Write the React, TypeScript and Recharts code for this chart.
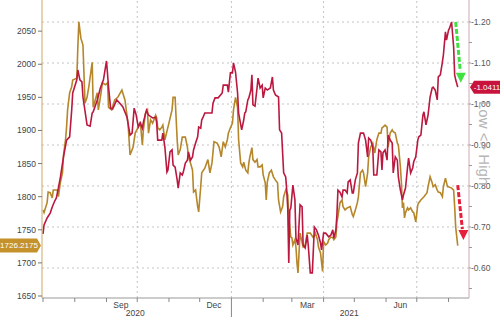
import { LineChart, Line, XAxis, YAxis, ReferenceLine, ReferenceDot } from 'recharts';

// x = days since 1 Jul 2020
const monthStarts = [0, 31, 62, 92, 123, 153, 184, 215, 243, 274, 304, 335, 365, 396];
const yearBreakDay = 184;
const monthLabelDays = [76, 167, 258, 349];
const monthLabelText = ['Sep', 'Dec', 'Mar', 'Jun'];
const yearLabelDays = [90, 299];
const yearLabelText = ['2020', '2021'];
const gridDays = [92, 184, 274, 365];

const goldTicks = [1650, 1700, 1750, 1800, 1850, 1900, 1950, 2000, 2050];
const yieldTicks = [-1.2, -1.1, -1.0, -0.9, -0.8, -0.7, -0.6];
const yieldMinorTicks = [-1.15, -1.05, -0.95, -0.85, -0.75, -0.65, -0.55];
const lastGold = 1726.2175;
const lastYield = -1.0411;

const goldDays = [
    0, 1, 4, 5, 7, 9, 10, 14, 15, 17,
    19, 20, 22, 23, 24, 26, 28, 29, 33, 34,
    35, 37, 39, 41, 43, 45, 48, 49, 51, 53,
    54, 56, 58, 61, 63, 64, 67, 70, 73, 77,
    80, 83, 85, 88, 90, 93, 95, 97, 98, 100,
    102, 103, 105, 107, 110, 111, 112, 114, 116, 117,
    119, 122, 126, 127, 129, 131, 132, 134, 136, 139,
    141, 142, 144, 146, 147, 149, 151, 152, 154, 155,
    158, 161, 163, 165, 167, 170, 172, 174, 176, 178,
    180, 181, 183, 185, 186, 188, 190, 191, 193, 195,
    196, 198, 200, 201, 202, 204, 205, 207, 209, 210,
    212, 214, 215, 217, 218, 219, 221, 223, 225, 227,
    229, 230, 232, 234, 235, 237, 239, 240, 242, 243,
    244, 246, 247, 248, 249, 251, 254, 256, 258, 261,
    264, 266, 268, 269, 271, 273, 274, 276, 278, 279,
    281, 283, 284, 286, 287, 288, 290, 292, 293, 295,
    297, 300, 302, 303, 305, 307, 308, 310, 312, 313,
    315, 317, 318, 320, 322, 324, 326, 328, 330, 331,
    332, 334, 336, 337, 339, 341, 342, 344, 346, 347,
    349, 350, 351, 352, 353, 354, 356, 357, 359, 361,
    362, 364, 366, 367, 369, 372, 375, 376, 378, 380,
    381, 383, 385, 386, 388, 390, 391, 393, 395, 396,
    399, 401, 402, 403, 405,
];
const goldPrice = [
    1780, 1776, 1791, 1807, 1806, 1798, 1810, 1810, 1800, 1822,
    1836, 1863, 1886, 1905, 1931, 1957, 1966, 1976, 1979, 2026,
    2064, 2039, 2029, 1941, 1950, 1969, 2003, 1935, 1946, 1957,
    1931, 1950, 1972, 1969, 1972, 1935, 1931, 1946, 1950, 1961,
    1946, 1911, 1863, 1875, 1896, 1905, 1913, 1878, 1901, 1926,
    1931, 1896, 1916, 1911, 1923, 1919, 1904, 1901, 1905, 1908,
    1886, 1905, 1931, 1950, 1950, 1886, 1863, 1871, 1890, 1890,
    1875, 1860, 1851, 1840, 1807, 1810, 1785, 1777, 1815, 1836,
    1843, 1856, 1836, 1851, 1883, 1881, 1875, 1860, 1883, 1875,
    1886, 1896, 1904, 1911, 1931, 1950, 1935, 1886, 1851, 1845,
    1852, 1840, 1836, 1851, 1860, 1874, 1856, 1852, 1856, 1845,
    1845, 1848, 1833, 1821, 1795, 1822, 1836, 1840, 1830, 1825,
    1821, 1795, 1777, 1785, 1800, 1810, 1803, 1770, 1739, 1738,
    1727, 1735, 1724, 1700, 1685, 1745, 1724, 1727, 1745, 1745,
    1738, 1745, 1735, 1724, 1715, 1687, 1732, 1727, 1730, 1735,
    1739, 1738, 1735, 1739, 1762, 1770, 1791, 1795, 1785, 1780,
    1783, 1785, 1773, 1770, 1780, 1791, 1800, 1836, 1840, 1836,
    1815, 1836, 1860, 1875, 1881, 1866, 1886, 1896, 1896, 1904,
    1905, 1908, 1905, 1875, 1896, 1901, 1898, 1896, 1881, 1878,
    1845, 1821, 1783, 1791, 1768, 1776, 1783, 1780, 1783, 1777,
    1776, 1762, 1788, 1791, 1795, 1800, 1806, 1815, 1830, 1821,
    1815, 1818, 1810, 1807, 1806, 1800, 1815, 1828, 1815, 1815,
    1813, 1810, 1785, 1754, 1726.2175,
];

const yieldDays = [
    0, 1, 4, 7, 9, 11, 13, 15, 17, 20,
    23, 26, 28, 29, 33, 34, 36, 38, 39, 43,
    46, 48, 49, 53, 56, 59, 62, 64, 66, 68,
    72, 75, 78, 82, 85, 87, 89, 91, 93, 95,
    97, 98, 101, 103, 107, 110, 111, 112, 116, 117,
    119, 121, 122, 124, 126, 127, 129, 131, 132, 134,
    136, 137, 139, 141, 142, 144, 146, 147, 149, 151,
    152, 154, 155, 156, 158, 161, 165, 166, 168, 171,
    175, 176, 180, 181, 183, 185, 186, 188, 190, 191,
    194, 196, 197, 198, 200, 201, 203, 204, 205, 207,
    209, 210, 212, 214, 215, 217, 219, 222, 224, 225,
    227, 230, 231, 233, 235, 237, 238, 239, 240, 241,
    242, 244, 246, 247, 249, 251, 253, 254, 256, 258,
    259, 261, 263, 265, 267, 269, 271, 272, 274, 276,
    279, 281, 283, 284, 286, 287, 288, 290, 292, 293,
    295, 297, 298, 300, 302, 303, 305, 307, 308, 310,
    313, 315, 317, 318, 320, 322, 323, 326, 328, 330,
    331, 332, 334, 336, 337, 339, 341, 342, 344, 346,
    347, 349, 351, 352, 354, 356, 357, 359, 361, 362,
    364, 366, 367, 369, 371, 372, 374, 375, 376, 378,
    380, 381, 383, 385, 386, 388, 390, 391, 393, 394,
    396, 397, 399, 401, 402, 403, 405,
];
const realYield = [
    -0.683, -0.705, -0.722, -0.734, -0.749, -0.761, -0.771, -0.795, -0.822, -0.871,
    -0.912, -0.920, -0.985, -1.027, -1.059, -1.083, -1.059, -1.054, -1.017, -0.949,
    -0.946, -0.978, -0.981, -1.010, -1.039, -1.059, -1.105, -1.041, -0.990, -0.988,
    -1.010, -1.002, -0.993, -0.968, -0.924, -0.929, -0.990, -0.973, -0.944, -0.954,
    -0.941, -0.956, -0.985, -0.973, -0.966, -0.968, -0.954, -0.912, -0.912, -0.929,
    -0.895, -0.834, -0.839, -0.883, -0.888, -0.851, -0.846, -0.815, -0.795, -0.832,
    -0.827, -0.834, -0.856, -0.863, -0.883, -0.863, -0.871, -0.888, -0.905, -0.920,
    -0.944, -0.941, -0.961, -0.966, -0.978, -0.978, -0.978, -1.002, -1.015, -1.015,
    -1.027, -1.046, -1.046, -1.029, -1.076, -1.076, -1.100, -1.078, -1.027, -0.978,
    -0.937, -0.961, -0.978, -0.981, -1.010, -1.015, -1.034, -1.071, -0.998, -0.995,
    -1.039, -1.063, -1.039, -1.046, -1.015, -1.039, -1.034, -1.039, -1.066, -1.034,
    -1.022, -1.017, -0.937, -0.929, -0.832, -0.822, -0.790, -0.746, -0.612, -0.741,
    -0.746, -0.802, -0.766, -0.673, -0.656, -0.754, -0.749, -0.656, -0.649, -0.680,
    -0.656, -0.588, -0.588, -0.700, -0.693, -0.680, -0.661, -0.644, -0.685, -0.685,
    -0.676, -0.680, -0.693, -0.673, -0.693, -0.729, -0.790, -0.785, -0.773, -0.790,
    -0.790, -0.783, -0.810, -0.815, -0.783, -0.783, -0.815, -0.832, -0.905, -0.929,
    -0.929, -0.912, -0.871, -0.917, -0.912, -0.895, -0.827, -0.827, -0.888, -0.883,
    -0.839, -0.881, -0.888, -0.863, -0.924, -0.912, -0.905, -0.832, -0.871, -0.863,
    -0.822, -0.790, -0.766, -0.778, -0.795, -0.846, -0.868, -0.832, -0.844, -0.859,
    -0.871, -0.912, -0.920, -0.924, -0.973, -0.981, -0.949, -0.961, -0.973, -1.017,
    -1.039, -1.041, -1.034, -1.010, -1.066, -1.071, -1.102, -1.120, -1.176, -1.156,
    -1.180, -1.185, -1.200, -1.139, -1.071, -1.059, -1.0411,
];

// annotation arrows (day, yield)
const greenArrow = [{ x: 403, y: -1.2 }, { x: 407.5, y: -1.08 }];
const greenTip = { x: 408, y: -1.052 };
const redArrow = [{ x: 405, y: -0.802 }, { x: 409.5, y: -0.695 }];
const redTip = { x: 410.5, y: -0.668 };

const goldData = goldDays.map((d, i) => ({ day: d, v: goldPrice[i] }));
const yieldData = yieldDays.map((d, i) => ({ day: d, v: realYield[i] }));

const RED = '#bb1840';
const GOLD = '#b5862a';
const FONT = '"Liberation Sans", Arial, sans-serif';

const xTicks = [...monthStarts, ...monthLabelDays, ...yearLabelDays].sort((a, b) => a - b);

function BottomTick({ x, y, payload }: any) {
    const v = payload.value;
    const mi = monthLabelDays.indexOf(v);
    const yi = yearLabelDays.indexOf(v);
    if (mi >= 0) {
        return <text x={x} y={y + 6.5} textAnchor="middle" dominantBaseline="central" fontSize={8.5} fill="#444" fontFamily={FONT}>{monthLabelText[mi]}</text>;
    }
    if (yi >= 0) {
        return <text x={x} y={y + 14.5} textAnchor="middle" dominantBaseline="central" fontSize={8.5} fill="#444" fontFamily={FONT}>{yearLabelText[yi]}</text>;
    }
    const len = v === yearBreakDay ? 19 : 4;
    return <line x1={x} x2={x} y1={y} y2={y + len} stroke="#888" strokeWidth={1} />;
}

function LeftTick({ x, y, payload }: any) {
    const v = payload.value;
    if (v === lastGold) {
        return (
            <g>
                <path d={`M${x - 42},${y - 7} H${x - 5} L${x - 1},${y} L${x - 5},${y + 7} H${x - 42} Z`} fill="#c4912a" />
                <text x={x - 23} y={y} textAnchor="middle" dominantBaseline="central" fontSize={8} fill="#fff" fontFamily={FONT}>{v.toFixed(4)}</text>
            </g>
        );
    }
    return (
        <g>
            <line x1={x - 4} x2={x} y1={y} y2={y} stroke="#777" />
            <text x={x - 6} y={y} textAnchor="end" dominantBaseline="central" fontSize={8.5} fill="#444" fontFamily={FONT}>{v}</text>
        </g>
    );
}

function RightTick({ x, y, payload }: any) {
    const v = payload.value;
    if (v === lastYield) {
        return (
            <g>
                <path d={`M${x + 1},${y} L${x + 5},${y - 6.5} H${x + 31} V${y + 6.5} H${x + 5} Z`} fill="#c8143c" />
                <text x={x + 18} y={y} textAnchor="middle" dominantBaseline="central" fontSize={8} fill="#fff" fontFamily={FONT}>{v.toFixed(4)}</text>
            </g>
        );
    }
    if (yieldMinorTicks.includes(v)) {
        return <line x1={x} x2={x + 3} y1={y} y2={y} stroke="#999" />;
    }
    return (
        <g>
            <line x1={x} x2={x + 2} y1={y} y2={y} stroke="#999" />
            <text x={x + 2} y={y} textAnchor="start" dominantBaseline="central" fontSize={8.5} fill="#555" fontFamily={FONT}>{v.toFixed(2)}</text>
        </g>
    );
}

const arrowHead = (color: string) => (p: any) => {
    const { cx, cy } = p;
    return <polygon points={`${cx},${cy} ${cx - 5},${cy - 10} ${cx + 5},${cy - 10}`} fill={color} />;
};

export default function App() {
    return (
        <div style={{ position: 'absolute', left: 0, top: 0, width: 500, height: 317, background: '#fff' }}>
            <LineChart width={500} height={317} margin={{ top: 0, right: 0, bottom: 0, left: 0 }}>
                <XAxis
                    dataKey="day"
                    type="number"
                    domain={[-1, 416]}
                    allowDataOverflow
                    ticks={xTicks}
                    interval={0}
                    tick={<BottomTick />}
                    tickLine={false}
                    tickSize={0}
                    tickMargin={0}
                    height={19}
                    axisLine={{ stroke: '#999' }}
                />
                <YAxis
                    yAxisId="left"
                    orientation="left"
                    width={42}
                    domain={[1647, 2097]}
                    allowDataOverflow
                    ticks={[...goldTicks, lastGold]}
                    interval={0}
                    tick={<LeftTick />}
                    tickLine={false}
                    tickSize={0}
                    tickMargin={0}
                    axisLine={{ stroke: '#c9a86a' }}
                />
                <YAxis
                    yAxisId="right"
                    orientation="right"
                    width={31}
                    reversed
                    domain={[-1.2537, -0.5268]}
                    allowDataOverflow
                    ticks={[...yieldTicks, ...yieldMinorTicks, lastYield]}
                    interval={0}
                    tick={<RightTick />}
                    tickLine={false}
                    tickSize={0}
                    tickMargin={0}
                    axisLine={{ stroke: '#cfa9b1' }}
                />
                {yieldTicks.map((v) => (
                    <ReferenceLine key={'h' + v} yAxisId="right" y={v} stroke="#c4c4c4" strokeDasharray="2 3" />
                ))}
                {gridDays.map((d) => (
                    <ReferenceLine key={'v' + d} yAxisId="right" x={d} stroke="#c4c4c4" strokeDasharray="2 3" />
                ))}
                <Line
                    data={goldData}
                    yAxisId="left"
                    dataKey="v"
                    type="linear"
                    stroke={GOLD}
                    strokeWidth={1.6}
                    dot={false}
                    isAnimationActive={false}
                />
                <Line
                    data={yieldData}
                    yAxisId="right"
                    dataKey="v"
                    type="linear"
                    stroke={RED}
                    strokeWidth={1.6}
                    dot={false}
                    isAnimationActive={false}
                />
                <ReferenceLine yAxisId="right" segment={greenArrow} stroke="#3fe03f" strokeWidth={3} strokeDasharray="5 2" ifOverflow="visible" />
                <ReferenceDot yAxisId="right" x={greenTip.x} y={greenTip.y} r={0} shape={arrowHead('#3fe03f')} ifOverflow="visible" />
                <ReferenceLine yAxisId="right" segment={redArrow} stroke="#e6203c" strokeWidth={3} strokeDasharray="5 2" ifOverflow="visible" />
                <ReferenceDot yAxisId="right" x={redTip.x} y={redTip.y} r={0} shape={arrowHead('#e6203c')} ifOverflow="visible" />
            </LineChart>
            <div
                style={{
                    position: 'absolute', left: 476, top: 101, writingMode: 'vertical-rl',
                    fontFamily: FONT, fontSize: 15, color: '#b5b5b5', lineHeight: '16px', whiteSpace: 'nowrap',
                }}
            >
                Low &lt;&gt; High
            </div>
        </div>
    );
}
